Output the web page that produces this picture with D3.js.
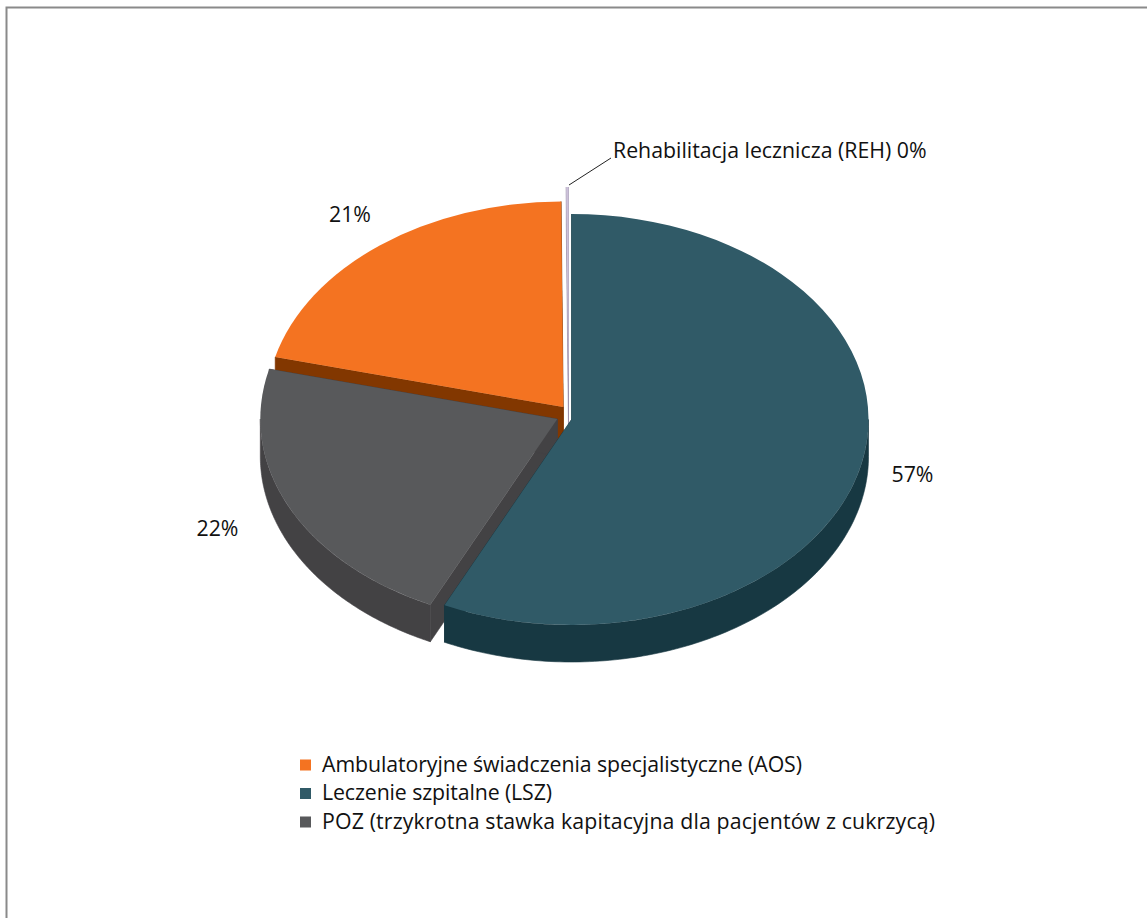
<!DOCTYPE html>
<html><head><meta charset="utf-8">
<script src="https://cdnjs.cloudflare.com/ajax/libs/d3/7.8.5/d3.min.js"></script>
<style>html,body{margin:0;padding:0;background:#fff}svg{display:block}text{font-family:"Open Sans",sans-serif;fill:#111}</style>
</head><body><svg id="c" width="1147" height="918"></svg>
<script>
const values = [57.1, 21.9, 21, 0.12];
const sliceNames = ["Leczenie szpitalne (LSZ)","POZ (trzykrotna stawka kapitacyjna dla pacjentów z cukrzycą)","Ambulatoryjne świadczenia specjalistyczne (AOS)","Rehabilitacja lecznicza (REH)"];
const percentLabels = ["57%","22%","21%","Rehabilitacja lecznicza (REH) 0%"];
const topColors = ["#305A67","#58595B","#F47321","#CCC1DA"];
const wallColors = ["#173842","#434244","#823700","#9A8FA8"];
const legendOrder = [2,0,1];

const cx=571.5, cy=419.5, rx=297, ry=205.5, depth=37;
const explodeX=[0,-14.2,-8.2,-3], explodeY=[0,-0.5,-12.5,-27];
const labelX=[912.5,217.5,350,613], labelY=[482,536,222,158];
const legendTextWidth={2:480,0:230,1:613};
const fontSize=21.3;
const svg=d3.select("#c");

svg.append("path").attr("d","M1147 7.5H6.5V918").attr("fill","none").attr("stroke","#8a8a8a").attr("stroke-width",2);

const pie=d3.pie().sort(null).value(d=>d)(values);
const unit=d3.arc().innerRadius(0).outerRadius(rx);
const px=(i,a)=>cx+explodeX[i]+rx*Math.sin(a);
const py=(i,a)=>cy+explodeY[i]-ry*Math.cos(a);
const apex=i=>[cx+explodeX[i],cy+explodeY[i]];

function drawWalls(i){
  const p=pie[i], g=svg.append("g").attr("fill",wallColors[i]).attr("stroke",wallColors[i]).attr("stroke-width",0.6);
  const a0=p.startAngle,a1=p.endAngle;
  const flat=(ang)=>{const A=apex(i);return [[A[0],A[1]],[px(i,ang),py(i,ang)],[px(i,ang),py(i,ang)+depth],[A[0],A[1]+depth]]};
  [a0,a1].forEach(ang=>{
    g.append("path").attr("d",d3.line()(flat(ang))+"Z");
  });
  const from=Math.max(a0,Math.PI/2), to=Math.min(a1,Math.PI*1.5);
  if(to>from){
    const steps=d3.range(0,121).map(k=>from+(to-from)*k/120);
    g.append("path").attr("d",d3.area().x(a=>px(i,a)).y0(a=>py(i,a)).y1(a=>py(i,a)+depth)(steps));
  }
}
function drawTop(i){
  svg.append("path").attr("d",unit(pie[i]))
    .attr("transform",`translate(${cx+explodeX[i]},${cy+explodeY[i]}) scale(1,${ry/rx})`)
    .attr("fill",topColors[i]);
}
[3,2,1,0].forEach(i=>{drawWalls(i);drawTop(i);});

svg.selectAll("text.lab").data(percentLabels).join("text").attr("class","lab")
  .attr("x",(d,i)=>labelX[i]).attr("y",(d,i)=>labelY[i])
  .attr("text-anchor",(d,i)=>i==3?"start":"middle").attr("font-size",fontSize).text(d=>d);
svg.append("path").attr("d",d3.line()([[569,185],[611,158]])).attr("stroke","#222").attr("stroke-width",1).attr("fill","none");

const ly=d3.scalePoint().domain(legendOrder).range([765,822]);
const leg=svg.selectAll("g.l").data(legendOrder).join("g").attr("class","l").attr("transform",i=>`translate(300,${ly(i)})`);
leg.append("rect").attr("x",0).attr("y",-5.5).attr("width",11).attr("height",11).attr("fill",i=>topColors[i]);
leg.append("text").attr("x",22).attr("y",6.5).attr("font-size",fontSize)
  .attr("textLength",i=>legendTextWidth[i]).attr("lengthAdjust","spacing").text(i=>sliceNames[i]);
</script></body></html>
